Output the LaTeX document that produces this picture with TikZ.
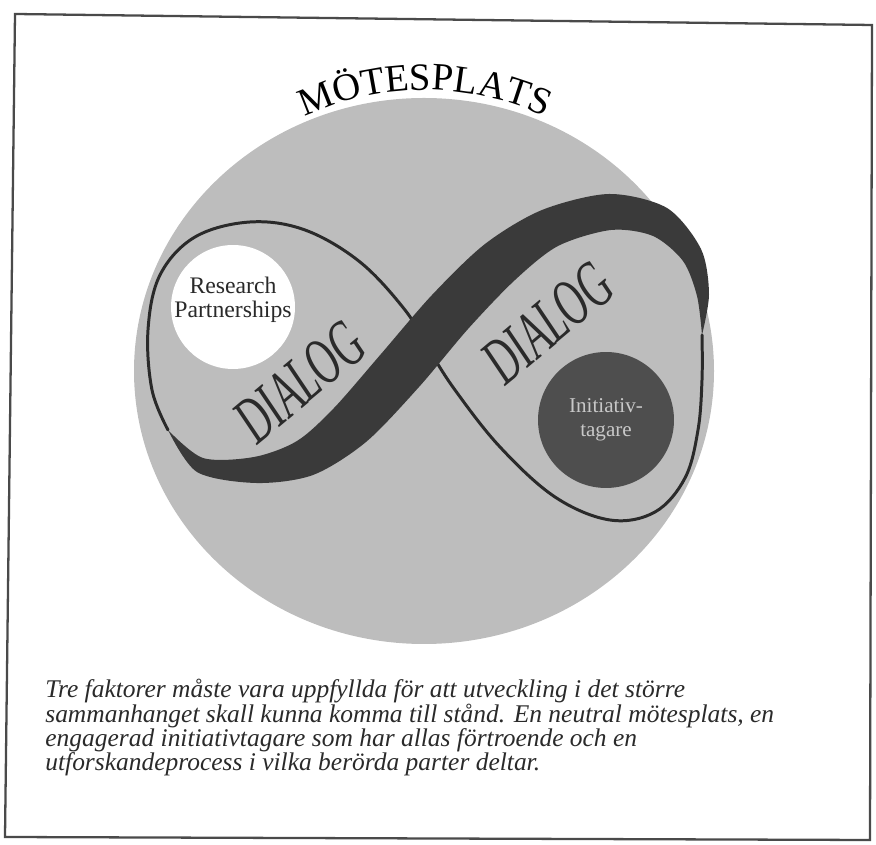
\documentclass[tikz,border=0pt]{standalone}
\usepackage{fontspec}
\setmainfont{Liberation Serif}
\usetikzlibrary{decorations.text,calc}
\definecolor{ink}{HTML}{2A2A2A}
\definecolor{frametx}{HTML}{4A4A4A}
\definecolor{meet}{HTML}{BDBDBD}
\definecolor{bandcol}{HTML}{3A3A3A}
\definecolor{initcol}{HTML}{4E4E4E}
\definecolor{inittx}{HTML}{C8C8C8}
\newcommand{\titlesize}{\fontsize{22}{22}\selectfont}
\newcommand{\dialogsize}{\fontsize{38}{38}\selectfont}
\tikzset{
  loopline/.style={ink,line width=1.7pt,line cap=round},
  dialogtx/.style={ink,font=\dialogsize\itshape,inner sep=0pt,rotate=40,xscale=0.6},
  disc/.style={circle,inner sep=0pt,align=center},
}

\begin{document}
\begin{tikzpicture}[x=0.02cm,y=0.02cm]
\useasboundingbox (0,0) rectangle (876,845);

% ---------------------------------------------------------------- frame
\draw[frametx,line width=1.3pt] (15,831) -- (872,820) -- (870,5) -- (5,8) -- cycle;

% ---------------------------------------------------------------- meeting place
\fill[meet] (424,474) ellipse [x radius=290,y radius=273];
\path[decorate,decoration={text along path,text align=center,
      text={|\titlesize|MÖTESPLATS}}]
  ($(425,470)+(140:285)$) arc[start angle=140,end angle=40,radius=285];

% ---------------------------------------------------------------- thin loop line
\draw[loopline] plot[smooth,tension=0.6] coordinates {
  (168,415) (152,455) (148,515) (160,570) (195,608) (250,623) (305,615)
  (360,583) (405,535) (428,497) (455,455) (500,398) (555,348) (610,325)
  (655,333) (685,367) (698,415) (702,465) (702,510)};

% ---------------------------------------------------------------- band
\fill[bandcol] plot[smooth] coordinates {
  (168,415) (197,373) (256,362) (313,370) (366,403) (419,458) (468,516)
  (515,565) (558,599) (611,615) (653,609) (683,584) (697,549) (702,510)}
  -- plot[smooth] coordinates {
  (702,510) (709,551) (701,596) (667,637) (609,651) (542,635) (485,601)
  (432,550) (381,491) (334,437) (297,404) (254,388) (203,387) (168,415)}
  -- cycle;

% ---------------------------------------------------------------- dialog
\node[dialogtx] (dialogL) at (300,463) {DIALOG};
\node[dialogtx] (dialogR) at (548,522) {DIALOG};

% ---------------------------------------------------------------- partners
\node[disc,fill=white,minimum size=2.48cm] (rp) at (233,538) {};
\node[ink,align=center,font=\fontsize{13.5}{14}\selectfont] (rplabel) at (233,545) {Research\\Partnerships};
\node[disc,fill=initcol,minimum size=2.72cm,text=inittx,
      font=\fontsize{12}{14}\selectfont] (init) at (606,425) {Initiativ-\\tagare};

% ---------------------------------------------------------------- caption
\node[ink,anchor=north west,inner sep=0pt,align=left,
      font=\fontsize{14.5}{13.8}\selectfont\itshape] (caption) at (45,166)
  {Tre faktorer måste vara uppfyllda för att utveckling i det större\\
   sammanhanget skall kunna komma till stånd. En neutral mötesplats, en\\
   engagerad initiativtagare som har allas förtroende och en\\
   utforskandeprocess i vilka berörda parter deltar.};

\end{tikzpicture}
\end{document}
